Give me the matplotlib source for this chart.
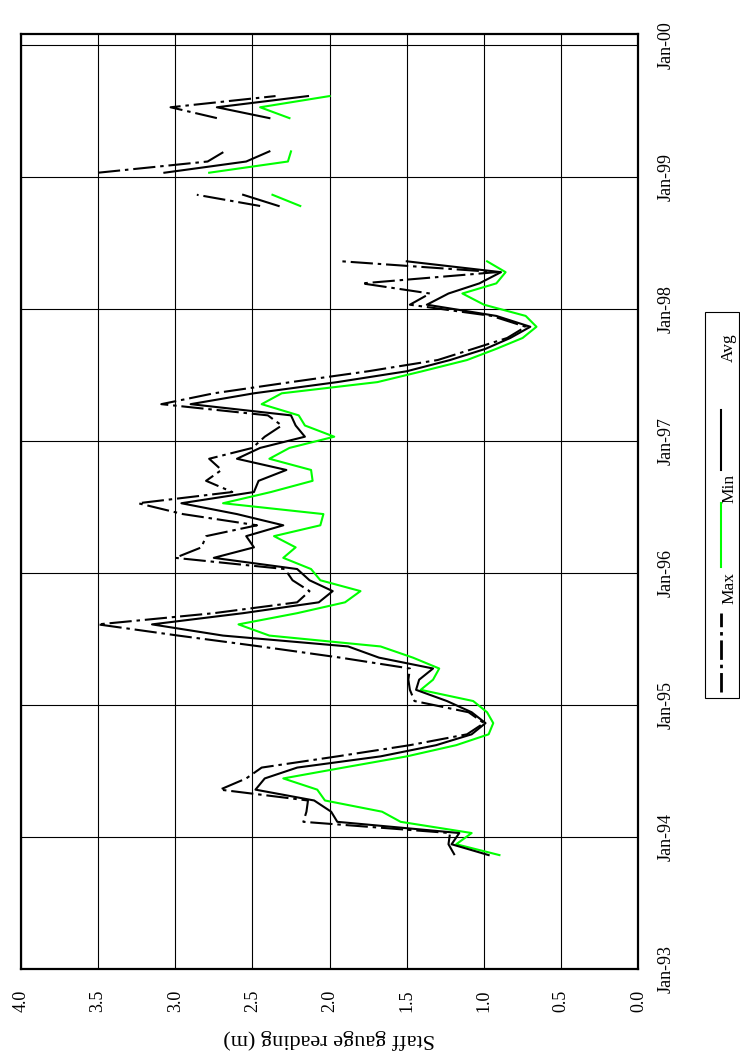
import numpy as np
import pandas as pd
import matplotlib
matplotlib.use('Agg')
import matplotlib.pyplot as plt
from matplotlib.lines import Line2D
from matplotlib.patches import Rectangle

plt.rcParams['font.family'] = ['Liberation Serif', 'DejaVu Serif']
plt.rcParams['lines.scale_dashes'] = False

nan = np.nan
# monthly readings Nov-1993 .. Aug-1999
months = pd.date_range('1993-11-01', periods=70, freq='MS') + pd.Timedelta(days=11)

avg_vals = [0.97, 1.21,
            1.16, 1.95, 1.99, 2.10, 2.48, 2.42, 2.21, 1.67, 1.31, 1.08, 0.99, 1.08,
            1.24, 1.44, 1.42, 1.33, 1.68, 1.88, 2.69, 3.15, 2.56, 2.07, 1.98, 2.13,
            2.21, 2.75, 2.49, 2.54, 2.30, 2.60, 2.96, 2.49, 2.46, 2.28, 2.60, 2.45,
            2.16, 2.22, 2.25, 2.90, 2.49, 1.95, 1.50, 1.22, 0.99, 0.83, 0.70, 0.92,
            1.37, 1.23, 1.03, 0.89, 1.50, nan, nan, nan, nan, 2.33, 2.56, nan,
            3.07, 2.54, 2.39, nan, nan, 2.39, 2.73, 2.14]

min_vals = [0.90, 1.18,
            1.08, 1.54, 1.66, 2.03, 2.08, 2.30, 1.91, 1.50, 1.18, 0.97, 0.94, 0.98,
            1.07, 1.41, 1.33, 1.29, 1.46, 1.67, 2.39, 2.59, 2.21, 1.90, 1.80, 2.06,
            2.12, 2.30, 2.22, 2.36, 2.06, 2.04, 2.69, 2.38, 2.11, 2.12, 2.39, 2.26,
            1.97, 2.16, 2.20, 2.44, 2.31, 1.69, 1.40, 1.11, 0.92, 0.75, 0.66, 0.73,
            1.00, 1.14, 0.92, 0.86, 0.98, nan, nan, nan, nan, 2.19, 2.37, nan,
            2.78, 2.27, 2.25, nan, nan, 2.26, 2.45, 2.00]

max_vals = [1.19, 1.23,
            1.22, 2.17, 2.15, 2.14, 2.71, 2.54, 2.44, 1.95, 1.48, 1.11, 1.00, 1.10,
            1.45, 1.48, 1.49, 1.48, 1.93, 2.45, 2.98, 3.50, 2.75, 2.21, 2.13, 2.24,
            2.29, 3.00, 2.83, 2.80, 2.47, 2.95, 3.24, 2.63, 2.80, 2.70, 2.78, 2.50,
            2.42, 2.31, 2.40, 3.09, 2.75, 2.25, 1.75, 1.30, 1.07, 0.85, 0.73, 0.95,
            1.48, 1.35, 1.79, 0.92, 1.92, nan, nan, nan, nan, 2.45, 2.86, nan,
            3.50, 2.79, 2.68, nan, nan, 2.73, 3.03, 2.35]

year_ticks = pd.date_range('1993-01-01', '2000-01-01', freq='YS')
year_labels = ['Jan-93', 'Jan-94', 'Jan-95', 'Jan-96', 'Jan-97', 'Jan-98', 'Jan-99', 'Jan-00']
value_ticks = [0.0, 0.5, 1.0, 1.5, 2.0, 2.5, 3.0, 3.5, 4.0]
value_labels = ['0.0', '0.5', '1.0', '1.5', '2.0', '2.5', '3.0', '3.5', '4.0']
series_names = ['Max', 'Min', 'Avg']

W, H = 740, 1056
fig = plt.figure(figsize=(W / 100, H / 100), dpi=100)

def fx(px):
    return px / W

def fy(py):
    return 1 - py / H

left, right, top, bottom = 20.8, 638.4, 33.5, 969.0
ax = fig.add_axes([fx(left), fy(bottom), fx(right) - fx(left), fy(top) - fy(bottom)])

green = '#00ff00'
max_dash = (16, 3.5, 2.5, 3.5)
ax.plot(max_vals, months, color='black', lw=1.5, dashes=max_dash, zorder=3)
ax.plot(min_vals, months, color=green, lw=1.5, zorder=3)
ax.plot(avg_vals, months, color='black', lw=1.5, zorder=4)

ax.set_xlim(4, 0)
ax.set_ylim(pd.Timestamp('1993-01-01'), pd.Timestamp('2000-02-01'))

ax.set_yticks(year_ticks)
ax.set_yticklabels(year_labels, rotation=90, va='center', ha='left', fontsize=13)
ax.yaxis.tick_right()
ax.set_xticks(value_ticks)
ax.set_xticklabels(value_labels, rotation=90, va='top', ha='center', fontsize=13)
ax.tick_params(axis='both', length=0)
ax.tick_params(axis='x', pad=15)
ax.tick_params(axis='y', pad=14)

ax.grid(True, color='black', lw=0.8)
ax.set_axisbelow(True)
for s in ax.spines.values():
    s.set_linewidth(1.6)
    s.set_color('black')

fig.text(fx(329.6), fy(1039), 'Staff gauge reading (m)', rotation=180,
         ha='center', va='center', fontsize=16)

# legend (rotated like the chart)
fig.add_artist(Rectangle((fx(705), fy(698)), fx(739) - fx(705), fy(312) - fy(698),
                         transform=fig.transFigure, fill=False, edgecolor='black', lw=0.8))
lx = 721
fig.add_artist(Line2D([fx(lx), fx(lx)], [fy(692), fy(613)], transform=fig.transFigure,
                      color='black', lw=2.0, dashes=(14, 3.5, 2.5, 3.5)))
fig.add_artist(Line2D([fx(lx), fx(lx)], [fy(567), fy(503)], transform=fig.transFigure,
                      color=green, lw=1.5))
fig.add_artist(Line2D([fx(lx), fx(lx)], [fy(470), fy(410)], transform=fig.transFigure,
                      color='black', lw=1.5))
for name, yc in zip(series_names, [588, 488, 348]):
    fig.text(fx(729), fy(yc), name, rotation=90, ha='center', va='center', fontsize=12.5)

fig.savefig('out.png', dpi=100)
